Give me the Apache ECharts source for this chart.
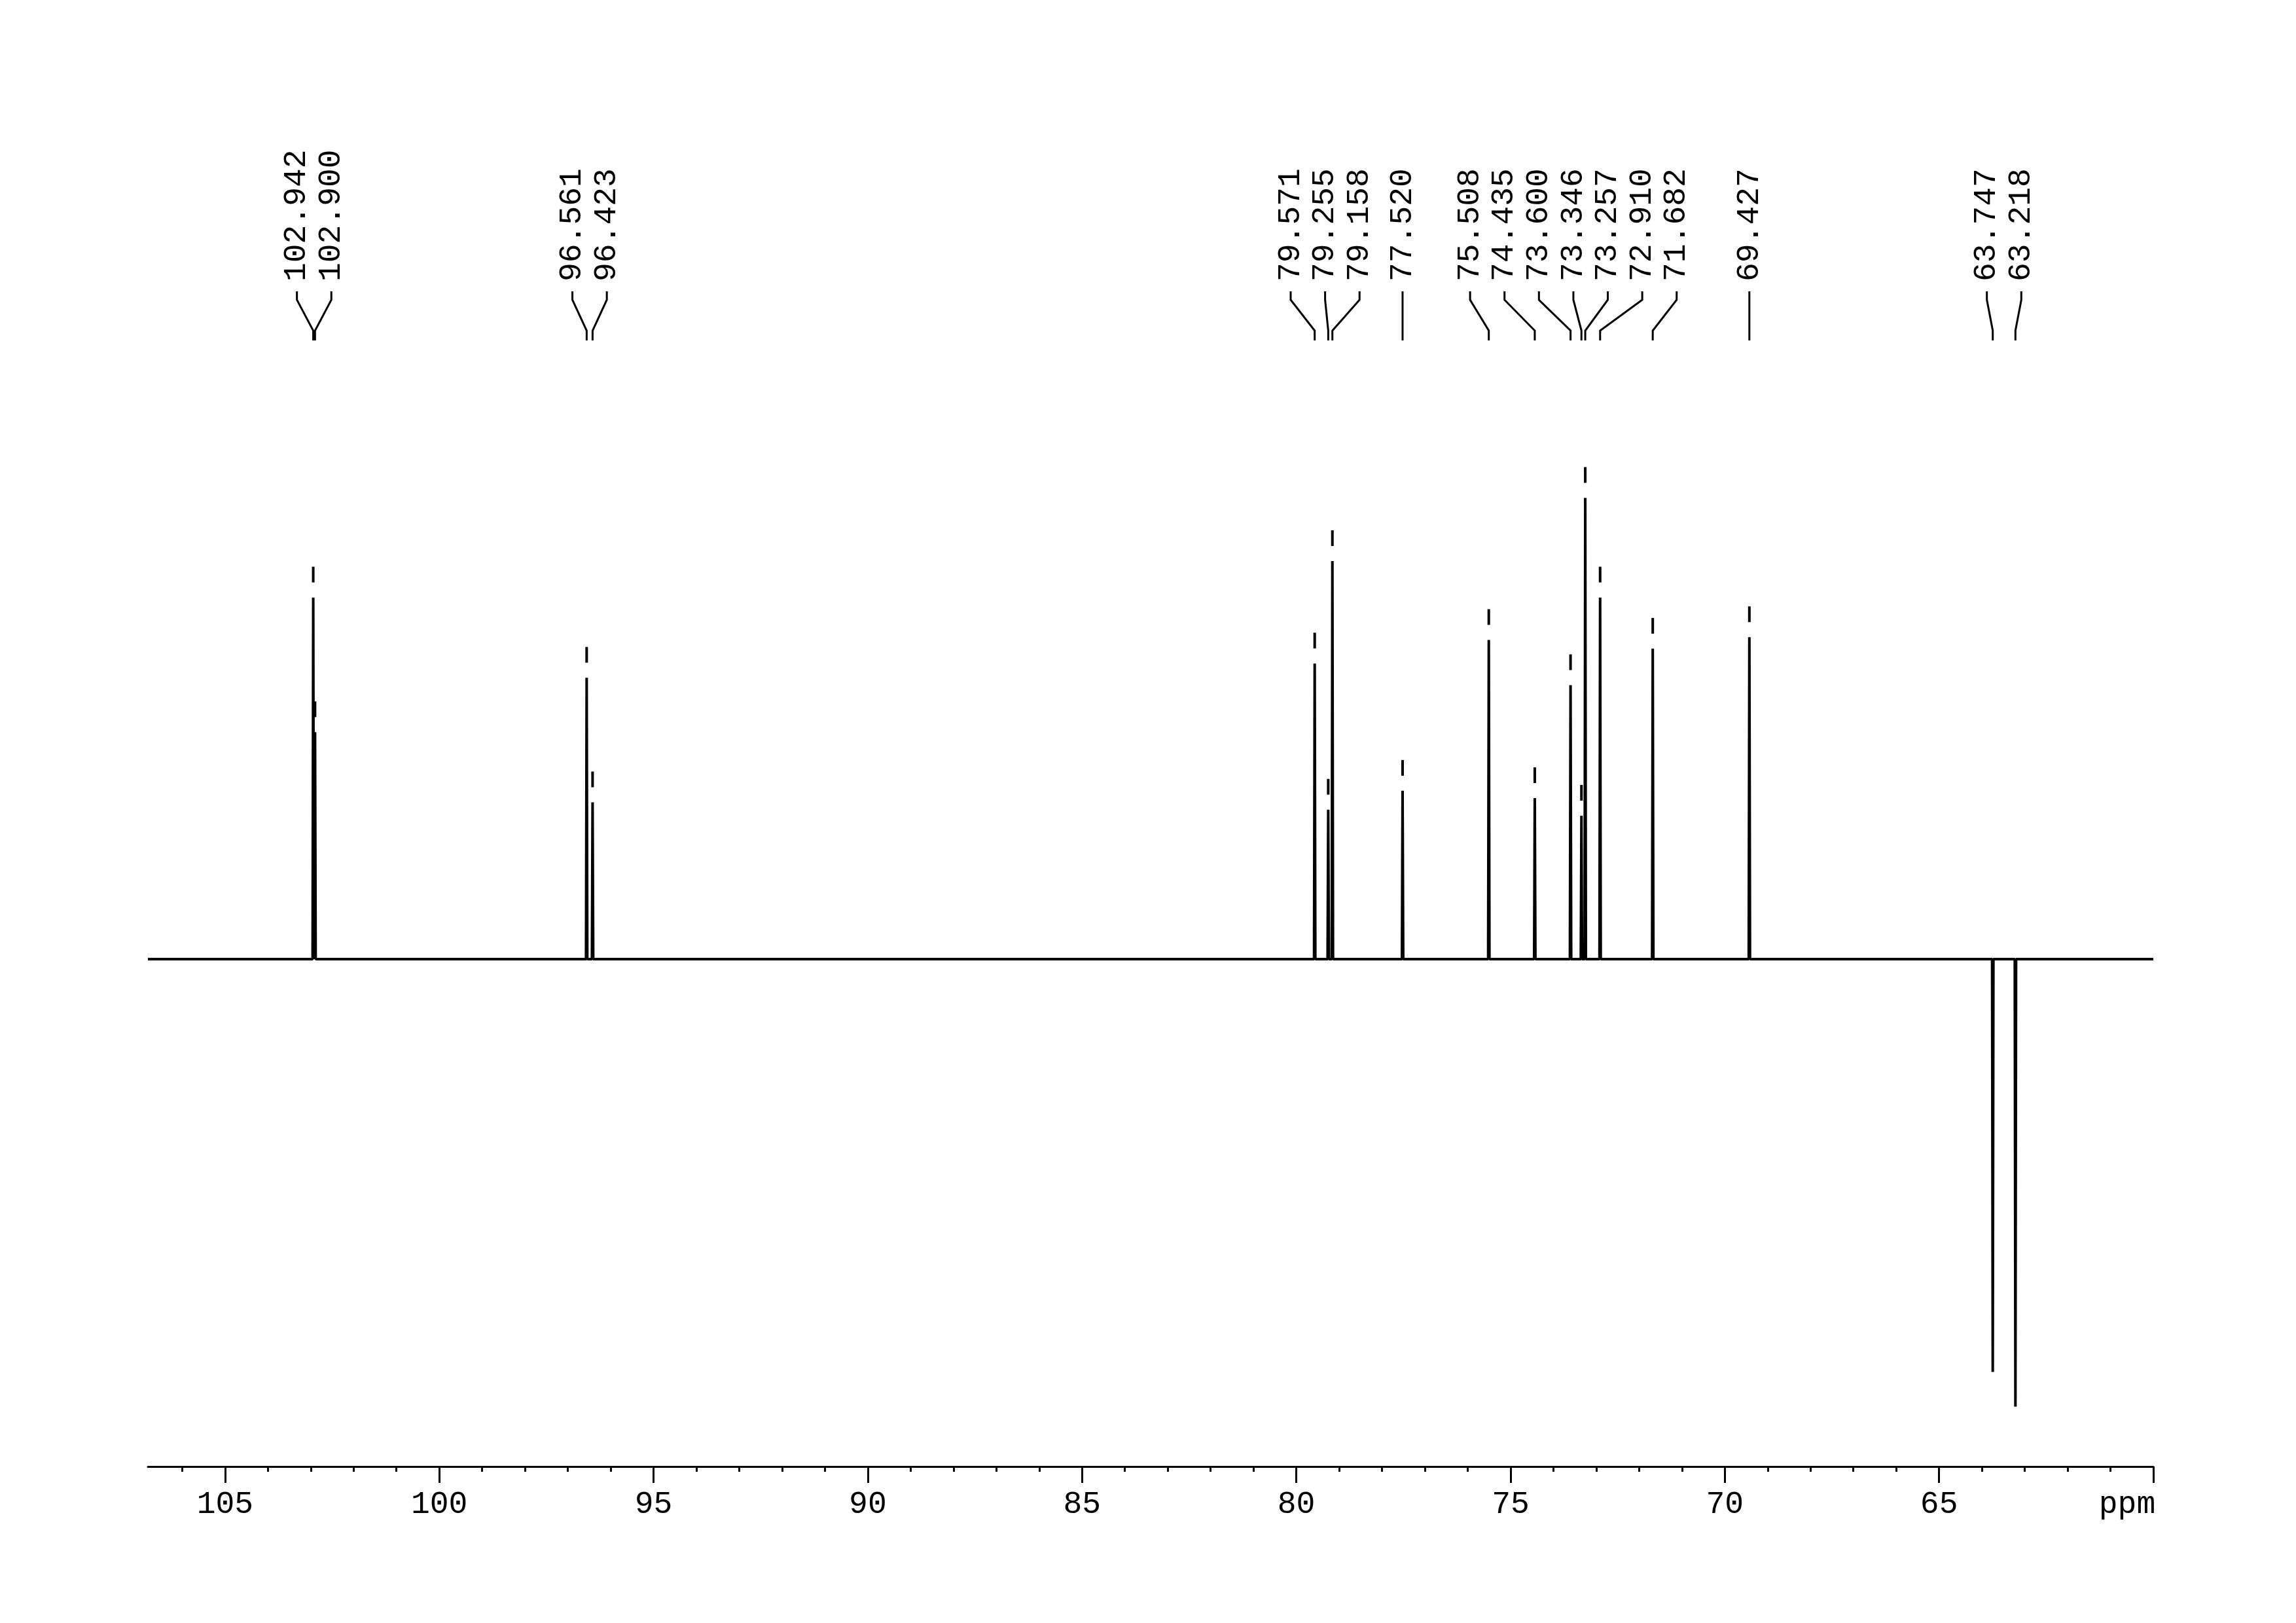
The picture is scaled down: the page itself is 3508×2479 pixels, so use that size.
<!DOCTYPE html>
<html><head><meta charset="utf-8">
<script src="https://cdn.jsdelivr.net/npm/echarts@6/dist/echarts.min.js"></script>
<style>html,body{margin:0;padding:0;background:#fff}#c{width:3508px;height:2479px}</style>
</head><body><div id="c"></div>
<script>
// ---- data ----
const PEAK_PPM = [102.942, 102.900, 96.561, 96.423, 79.571, 79.255, 79.158, 77.520, 75.508, 74.435, 73.600, 73.346, 73.257, 72.910, 71.682, 69.427, 63.747, 63.218];
// relative intensities (tallest positive peak = 100)
const PEAK_INT = [78.4, 49.2, 61.0, 34.0, 64.1, 32.4, 86.3, 36.5, 69.2, 34.9, 59.4, 31.1, 100, 78.4, 67.3, 69.8, -89.5, -97.0];
const PEAK_LABELS = ['102.942','102.900','96.561','96.423','79.571','79.255','79.158','77.520','75.508','74.435','73.600','73.346','73.257','72.910','71.682','69.427','63.747','63.218'];
const X_RANGE = [60, 106.8];
const Y_RANGE = [-110, 110];
const MAJOR_TICKS = [105, 100, 95, 90, 85, 80, 75, 70, 65, 60];
const MAJOR_TICK_LABELS = ['105', '100', '95', '90', '85', '80', '75', '70', '65', 'ppm'];
const MINOR_TICKS = [106, 104, 103, 102, 101, 99, 98, 97, 96, 94, 93, 92, 91, 89, 88, 87, 86, 84, 83, 82, 81, 79, 78, 77, 76, 74, 73, 72, 71, 69, 68, 67, 66, 64, 63, 62, 61];
const PEAK_HALF_WIDTH = 0.015;

// ---- build spectrum trace (baseline + peaks) ----
const spectrum = [[X_RANGE[1], 0], [X_RANGE[0], 0]];
PEAK_PPM.forEach((p, i) => {
  spectrum.push([p + PEAK_HALF_WIDTH, 0], [p, PEAK_INT[i]], [p - PEAK_HALF_WIDTH, 0]);
});
spectrum.sort((a, b) => b[0] - a[0]);

const FONT = 'Liberation Mono';
const LABEL_GAP = 52.6;
const LABEL_BOTTOM = 430, CONN_TOP = 445, BEND1 = 458, BEND2 = 505, CONN_BOTTOM = 520;

function spreadLabels(xs, gap) {
  const order = xs.map((x, i) => i).sort((a, b) => xs[a] - xs[b]);
  let clusters = order.map(i => ({ ids: [i], sum: xs[i] }));
  let changed = true;
  while (changed) {
    changed = false;
    for (let k = 0; k < clusters.length - 1; k++) {
      const a = clusters[k], b = clusters[k + 1];
      const aEnd = a.sum / a.ids.length + (a.ids.length - 1) / 2 * gap;
      const bStart = b.sum / b.ids.length - (b.ids.length - 1) / 2 * gap;
      if (bStart - aEnd < gap - 1e-6) {
        clusters.splice(k, 2, { ids: a.ids.concat(b.ids), sum: a.sum + b.sum });
        changed = true;
        break;
      }
    }
  }
  const out = new Array(xs.length);
  clusters.forEach(c => {
    const n = c.ids.length, mean = c.sum / n;
    c.ids.forEach((id, j) => { out[id] = mean + (j - (n - 1) / 2) * gap; });
  });
  return out;
}

const chart = echarts.init(document.getElementById('c'), null, { renderer: 'canvas' });
const tickLabel = v => {
  const i = MAJOR_TICKS.findIndex(t => Math.abs(t - v) < 1e-6);
  if (i < 0) return '';
  const s = MAJOR_TICK_LABELS[i];
  return isNaN(Number(s)) ? '{u|' + s + '}' : s;
};

chart.setOption({
  animation: false,
  backgroundColor: '#fff',
  grid: { left: 226, right: 218, top: 690, bottom: 239, containLabel: false },
  xAxis: [{
    type: 'value', min: X_RANGE[0], max: X_RANGE[1], inverse: true, position: 'bottom',
    axisLine: { show: true, onZero: false, lineStyle: { color: '#000', width: 3 } },
    axisTick: { show: true, customValues: MAJOR_TICKS, length: 25, lineStyle: { color: '#000', width: 3 } },
    axisLabel: {
      show: true, customValues: MAJOR_TICKS, formatter: tickLabel,
      fontFamily: FONT, fontSize: 48, color: '#000', margin: 34,
      rich: { u: { fontFamily: FONT, fontSize: 48, color: '#000', padding: [0, 80, 0, 0] } }
    },
    splitLine: { show: false }
  }, {
    type: 'value', min: X_RANGE[0], max: X_RANGE[1], inverse: true, position: 'bottom',
    axisLine: { show: false, onZero: false },
    axisTick: { show: true, customValues: MINOR_TICKS, length: 8, lineStyle: { color: '#000', width: 3 } },
    axisLabel: { show: false },
    splitLine: { show: false }
  }],
  yAxis: { type: 'value', min: Y_RANGE[0], max: Y_RANGE[1], show: false, splitLine: { show: false } },
  series: [{
    type: 'line', xAxisIndex: 0, data: spectrum, showSymbol: false, symbol: 'none',
    lineStyle: { color: '#000', width: 4 }, silent: true
  }, {
    type: 'custom', coordinateSystem: 'cartesian2d', xAxisIndex: 0, clip: false, silent: true,
    data: PEAK_PPM.map((p, i) => [p, PEAK_INT[i]]),
    renderItem: function (params, api) {
      const idx = params.dataIndex;
      const px = PEAK_PPM.map(p => api.coord([p, 0])[0]);
      const lx = spreadLabels(px, LABEL_GAP);
      const x0 = lx[idx], x1 = px[idx];
      const top = api.coord([PEAK_PPM[idx], PEAK_INT[idx]])[1];
      const children = [{
        type: 'text', x: x0, y: LABEL_BOTTOM, rotation: Math.PI / 2,
        style: { text: PEAK_LABELS[idx], fontFamily: FONT, fontSize: 48, fill: '#000', align: 'left', verticalAlign: 'middle' }
      }, {
        type: 'polyline',
        shape: { points: [[x0, CONN_TOP], [x0, BEND1], [x1, BEND2], [x1, CONN_BOTTOM]] },
        style: { stroke: '#000', lineWidth: 3, fill: null }
      }];
      if (PEAK_INT[idx] > 0) {
        children.push({
          type: 'line', shape: { x1: x1, y1: top - 47, x2: x1, y2: top - 23 },
          style: { stroke: '#000', lineWidth: 4 }
        });
      }
      return { type: 'group', children: children };
    }
  }]
});
</script></body></html>
